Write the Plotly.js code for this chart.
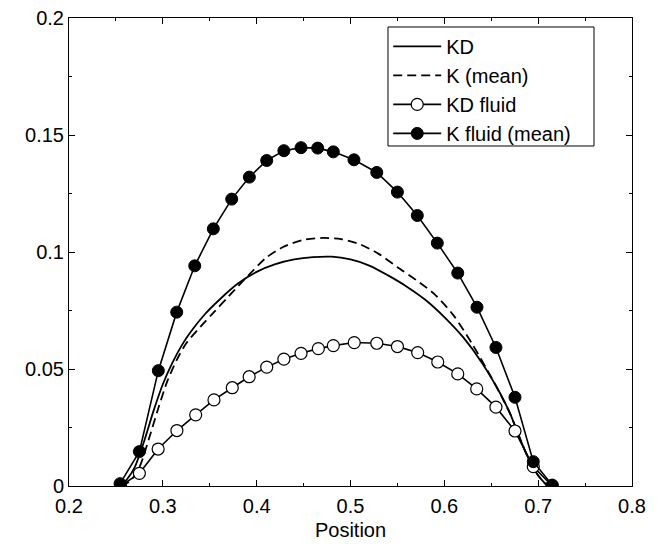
<!DOCTYPE html>
<html>
<head>
<meta charset="utf-8">
<script src="https://cdn.plot.ly/plotly-3.0.1.min.js"></script>
<style>html,body{margin:0;padding:0;background:#fff;}#chart{width:658px;height:544px;}</style>
</head>
<body>
<div id="chart"></div>
<script>
// KD (solid line)
const kdX = [0.255,0.262,0.27,0.28,0.29,0.30,0.31,0.32,0.33,0.345,0.36,0.38,0.40,0.42,0.44,0.46,0.48,0.50,0.52,0.54,0.56,0.58,0.60,0.62,0.64,0.66,0.67,0.68,0.69,0.70,0.71];
const kdY = [0.0,0.003,0.008,0.019,0.032,0.0435,0.0525,0.060,0.066,0.0735,0.0795,0.0865,0.0915,0.0948,0.0968,0.0978,0.098,0.0968,0.0942,0.090,0.0852,0.0795,0.0722,0.0636,0.0527,0.0392,0.031,0.0208,0.0115,0.0045,0.0];
// K (mean) (dashed line)
const kmX = [0.255,0.265,0.275,0.285,0.295,0.305,0.315,0.325,0.34,0.355,0.37,0.39,0.41,0.43,0.45,0.47,0.49,0.51,0.53,0.55,0.57,0.59,0.61,0.63,0.65,0.66,0.67,0.68,0.69,0.70,0.71];
const kmY = [0.0,0.002,0.008,0.020,0.033,0.045,0.054,0.061,0.068,0.0745,0.081,0.0895,0.0975,0.1025,0.1052,0.106,0.1055,0.1033,0.0992,0.0935,0.088,0.0818,0.0728,0.0605,0.0465,0.039,0.031,0.021,0.0115,0.0045,0.0];
// KD fluid (open circles)
const kdfX = [0.255,0.275,0.295,0.315,0.335,0.3545,0.374,0.392,0.4107,0.429,0.4473,0.4657,0.4817,0.504,0.528,0.55,0.5716,0.593,0.6143,0.6345,0.655,0.6753,0.6948,0.715];
const kdfY = [0.0,0.0054,0.0158,0.0237,0.0304,0.0368,0.042,0.0467,0.0508,0.0542,0.0567,0.0587,0.060,0.0613,0.061,0.0596,0.057,0.053,0.0479,0.0415,0.0337,0.0235,0.0083,0.0];
// K fluid (mean) (filled circles)
const kfX = [0.2544,0.275,0.2952,0.3148,0.334,0.3538,0.3734,0.3922,0.4107,0.429,0.4473,0.465,0.4817,0.5037,0.528,0.55,0.5712,0.5925,0.6143,0.6348,0.655,0.6753,0.6948,0.715];
const kfY = [0.001,0.0147,0.0493,0.0743,0.0941,0.1099,0.1226,0.132,0.1391,0.1433,0.1446,0.1444,0.1428,0.1394,0.134,0.1256,0.1156,0.1038,0.091,0.0764,0.0592,0.0379,0.0104,0.0004];

const names = ['KD','K (mean)','KD fluid','K fluid (mean)'];

const traces = [
  {x: kdX, y: kdY, name: names[0], mode: 'lines', line: {color: '#000', width: 1.8, shape: 'spline', smoothing: 0.8}},
  {x: kmX, y: kmY, name: names[1], mode: 'lines', line: {color: '#000', width: 1.8, dash: '9px,5px', shape: 'spline', smoothing: 0.8}},
  {x: kdfX, y: kdfY, name: names[2], mode: 'lines+markers', line: {color: '#000', width: 1.6},
   marker: {symbol: 'circle', size: 12, color: '#fff', line: {color: '#000', width: 1.2}}},
  {x: kfX, y: kfY, name: names[3], mode: 'lines+markers', line: {color: '#000', width: 1.6},
   marker: {symbol: 'circle', size: 12, color: '#000', line: {color: '#000', width: 1}}}
];

const fontFam = 'Liberation Sans, Arial, Helvetica, sans-serif';
const layout = {
  width: 658, height: 544,
  margin: {l: 69, r: 26, t: 18, b: 58},
  paper_bgcolor: '#fff', plot_bgcolor: '#fff',
  font: {family: fontFam, size: 20, color: '#000'},
  showlegend: true,
  legend: {x: 0.567, y: 0.981, xanchor: 'left', yanchor: 'top', bgcolor: 'rgba(0,0,0,0)', borderwidth: 0,
           font: {family: fontFam, size: 20, color: '#000'}, tracegroupgap: 0, itemwidth: 48},
  shapes: [
    {type: 'rect', xref: 'paper', yref: 'paper', x0: 0.5666, x1: 0.9325, y0: 0.7265, y1: 0.9808,
     fillcolor: '#fff', line: {color: '#000', width: 1}, layer: 'above'}
  ],
  xaxis: {range: [0.2, 0.8], dtick: 0.1, tick0: 0.2, ticks: 'inside', ticklen: 6, tickcolor: '#000', tickwidth: 1,
          showline: true, linecolor: '#000', linewidth: 1, mirror: 'allticks', showgrid: false, zeroline: false,
          minor: {dtick: 0.05, ticks: 'inside', ticklen: 3, tickcolor: '#000', showgrid: false},
          tickformat: '.1f', tickfont: {size: 20}, ticklabelstandoff: 2,
          title: {text: 'Position', font: {size: 20}, standoff: 6}},
  yaxis: {range: [0, 0.2], dtick: 0.05, tick0: 0, ticks: 'inside', ticklen: 6, tickcolor: '#000', tickwidth: 1,
          showline: true, linecolor: '#000', linewidth: 1, mirror: 'allticks', showgrid: false, zeroline: false,
          minor: {dtick: 0.025, ticks: 'inside', ticklen: 3, tickcolor: '#000', showgrid: false},
          tickvals: [0, 0.05, 0.1, 0.15, 0.2], ticktext: ['0', '0.05', '0.1', '0.15', '0.2'], tickfont: {size: 20}}
};

Plotly.newPlot('chart', traces, layout, {displayModeBar: false, staticPlot: true});
</script>
</body>
</html>
